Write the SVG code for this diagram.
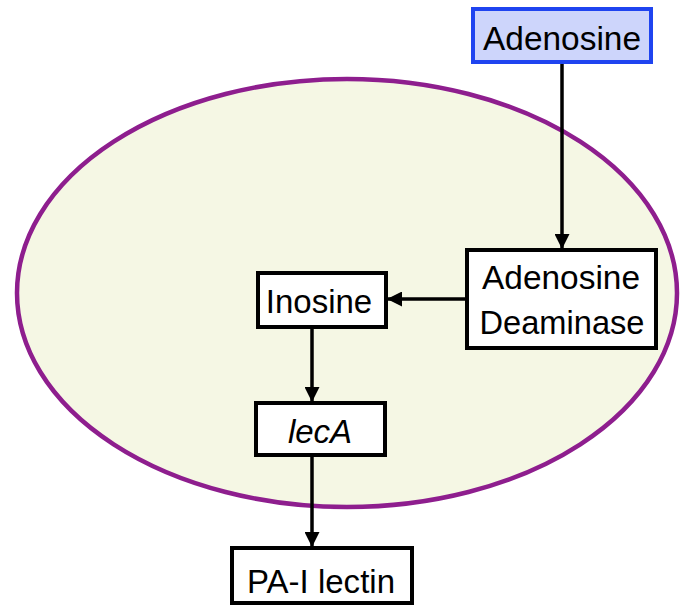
<svg xmlns="http://www.w3.org/2000/svg" width="685" height="614" viewBox="0 0 685 614">
<style>
.box{fill:#ffffff;stroke:#000000;stroke-width:4}
.lbl{font-family:"Liberation Sans",Arial,sans-serif;font-size:33px;fill:#000000;text-anchor:middle}
.edge{stroke:#000000;stroke-width:3.5;fill:none;marker-end:url(#ah)}
</style>
<defs>
<marker id="ah" markerWidth="15" markerHeight="15" viewBox="0 0 15 15" refX="14" refY="7.5" orient="auto" markerUnits="userSpaceOnUse">
<path d="M0,0 L15,7.5 L0,15 Z" fill="#000000"/>
</marker>
</defs>
<rect width="685" height="614" fill="#ffffff"/>
<g id="cell">
<ellipse cx="347" cy="293" rx="330" ry="214" fill="#f5f7e4" stroke="#8e1e8e" stroke-width="4.5"/>
</g>
<g id="connectors">
<line class="edge" x1="562" y1="62" x2="562" y2="248"/>
<line class="edge" x1="467" y1="299" x2="388" y2="299"/>
<line class="edge" x1="312" y1="327" x2="312" y2="401"/>
<line class="edge" x1="312" y1="455" x2="312" y2="546"/>
</g>
<g id="adenosine">
<rect x="473" y="9" width="178" height="53" fill="#cdd5fb" stroke="#1f44f0" stroke-width="4"/>
<text class="lbl" x="562" y="50" textLength="158" lengthAdjust="spacingAndGlyphs">Adenosine</text>
</g>
<g id="deaminase">
<rect class="box" x="467" y="250" width="189" height="98"/>
<text class="lbl" x="561" y="289" textLength="158" lengthAdjust="spacingAndGlyphs">Adenosine</text>
<text class="lbl" x="562" y="334" textLength="165" lengthAdjust="spacingAndGlyphs">Deaminase</text>
</g>
<g id="inosine">
<rect class="box" x="258" y="273" width="128" height="54"/>
<text class="lbl" x="319" y="313">Inosine</text>
</g>
<g id="leca">
<rect class="box" x="256" y="403" width="129" height="52"/>
<text class="lbl" x="320" y="443" font-style="italic">lecA</text>
</g>
<g id="palectin">
<rect class="box" x="232" y="548" width="180" height="55"/>
<text class="lbl" x="321" y="593" textLength="148" lengthAdjust="spacingAndGlyphs">PA-I lectin</text>
</g>
</svg>
